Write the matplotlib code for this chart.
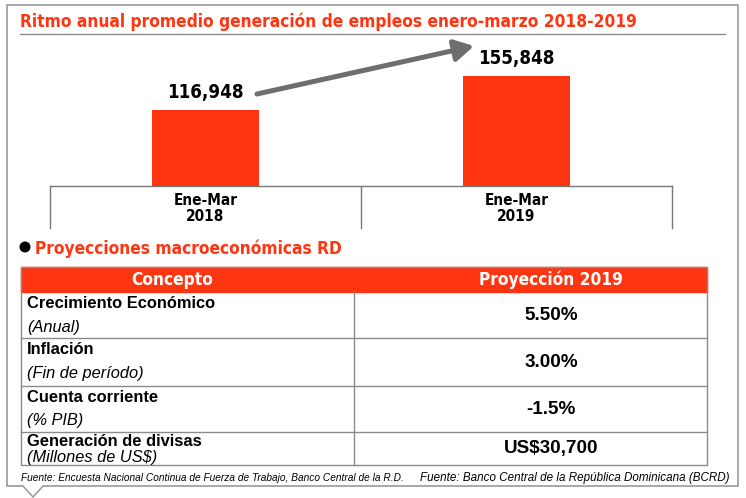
import matplotlib
matplotlib.use('Agg')
import matplotlib.pyplot as plt
from matplotlib import font_manager
from matplotlib.patches import Rectangle, Polygon, Circle

# Datos
periodos = ['Ene-Mar\n2018', 'Ene-Mar\n2019']
empleos = [116948, 155848]
etiquetas = ['116,948', '155,848']

conceptos = ['Crecimiento Económico', 'Inflación', 'Cuenta corriente', 'Generación de divisas']
notas = ['(Anual)', '(Fin de período)', '(% PIB)', '(Millones de US$)']
proyecciones = ['5.50%', '3.00%', '-1.5%', 'US$30,700']

titulo = 'Ritmo anual promedio generación de empleos enero-marzo 2018-2019'
subtitulo = 'Proyecciones macroeconómicas RD'
encabezados = ['Concepto', 'Proyección 2019']
fuente_izq = 'Fuente: Encuesta Nacional Continua de Fuerza de Trabajo, Banco Central de la R.D.'
fuente_der = 'Fuente: Banco Central de la República Dominicana (BCRD)'

ROJO = '#ff3512'
W, H = 746, 498

# Fuente condensada si existe
nombres = {f.name for f in font_manager.fontManager.ttflist}
if 'Liberation Sans Narrow' in nombres:
    COND = dict(family=['Liberation Sans Narrow', 'DejaVu Sans'], fontweight='bold')
else:
    COND = dict(family=['DejaVu Sans'], fontweight='bold', fontstretch='condensed')
plt.rcParams['font.family'] = ['Liberation Sans', 'DejaVu Sans']


def rect(x0, y0, x1, y1):
    return [x0 / W, 1 - y1 / H, (x1 - x0) / W, (y1 - y0) / H]


fig = plt.figure(figsize=(W / 100, H / 100), dpi=100)

# Capa de fondo en pixeles
bg = fig.add_axes([0, 0, 1, 1])
bg.set_xlim(0, W)
bg.set_ylim(H, 0)
bg.axis('off')

# marco con pico
bg.add_patch(Rectangle((7, 5), 731, 481, fill=False, ec='#9a9a9a', lw=1.2))
bg.add_patch(Polygon([(23, 484), (43, 484), (43, 486), (33, 497), (23, 486)], fc='white', ec='none', zorder=3))
bg.plot([23, 33, 43], [486, 497, 486], color='#9a9a9a', lw=1.1, zorder=4)

# titulo
bg.text(20, 27, titulo, color=ROJO, fontsize=12.4, va='baseline', **COND)
bg.plot([20, 725], [34, 34], color='#8c8c8c', lw=1)

# caja de categorias
bg.plot([50, 672], [186, 186], color='#777777', lw=1)
for x in [50, 361, 672]:
    bg.plot([x, x], [186, 228], color='#777777', lw=1)

# flecha
bg.annotate('', xy=(474, 46), xytext=(257, 94),
            arrowprops=dict(arrowstyle='-|>,head_length=1.15,head_width=0.65',
                            lw=3.6, color='#6e6e6e', shrinkA=0, shrinkB=0))

# Grafico de barras
ax = fig.add_axes(rect(50, 40, 672, 186))
ax.patch.set_alpha(0)
x = list(range(len(empleos)))
ax.bar(x, empleos, width=0.347, color=ROJO)
ax.set_xlim(-0.5, 1.5)
ax.set_ylim(30000, 30000 + 146 * 1144)
for s in ax.spines.values():
    s.set_visible(False)
ax.set_yticks([])
ax.set_xticks(x)
ax.set_xticklabels(periodos, fontsize=11, linespacing=1.1, **COND)
ax.tick_params(axis='x', length=0, pad=5)
for i, v in enumerate(empleos):
    ax.annotate(etiquetas[i], (i, v), xytext=(0, 6), textcoords='offset points',
                ha='center', va='bottom', fontsize=13.4, **COND)

# Proyecciones
bg.add_patch(Circle((25, 247), 4.8, color='black'))
bg.text(35, 254, subtitulo, color=ROJO, fontsize=12.4, va='baseline', **COND)

# tabla
tl, tr, tc = 21, 707, 354
filas = [292, 338, 386, 432, 465]
bg.add_patch(Rectangle((tl, 267), tr - tl, 25, color=ROJO))
bg.add_patch(Rectangle((tl, 267), tr - tl, filas[-1] - 267, fill=False, ec='#8a8a8a', lw=1))
for y in filas[1:-1]:
    bg.plot([tl, tr], [y, y], color='#8a8a8a', lw=1)
bg.plot([tc, tc], [292, filas[-1]], color='#8a8a8a', lw=1)
bg.text(172, 280, encabezados[0], color='white', fontsize=12.4, ha='center', va='center', **COND)
bg.text(551, 280, encabezados[1], color='white', fontsize=12.4, ha='center', va='center', **COND)

dy_c = [11, 11, 11, 9]
dy_n = [35, 35, 34, 25]
for i in range(len(conceptos)):
    top, bot = filas[i], filas[i + 1]
    bg.text(27, top + dy_c[i], conceptos[i], fontsize=11.9, fontweight='bold', va='center')
    bg.text(27, top + dy_n[i], notas[i], fontsize=11.8, style='italic', va='center')
    bg.text(551, (top + bot) / 2, proyecciones[i], fontsize=13.6, fontweight='bold',
            ha='center', va='center')

# fuentes
bg.text(21, 478, fuente_izq, fontsize=7.3, style='italic', va='center')
bg.text(730, 478, fuente_der, fontsize=8.4, style='italic', ha='right', va='center')

fig.savefig('out.png', dpi=100)
